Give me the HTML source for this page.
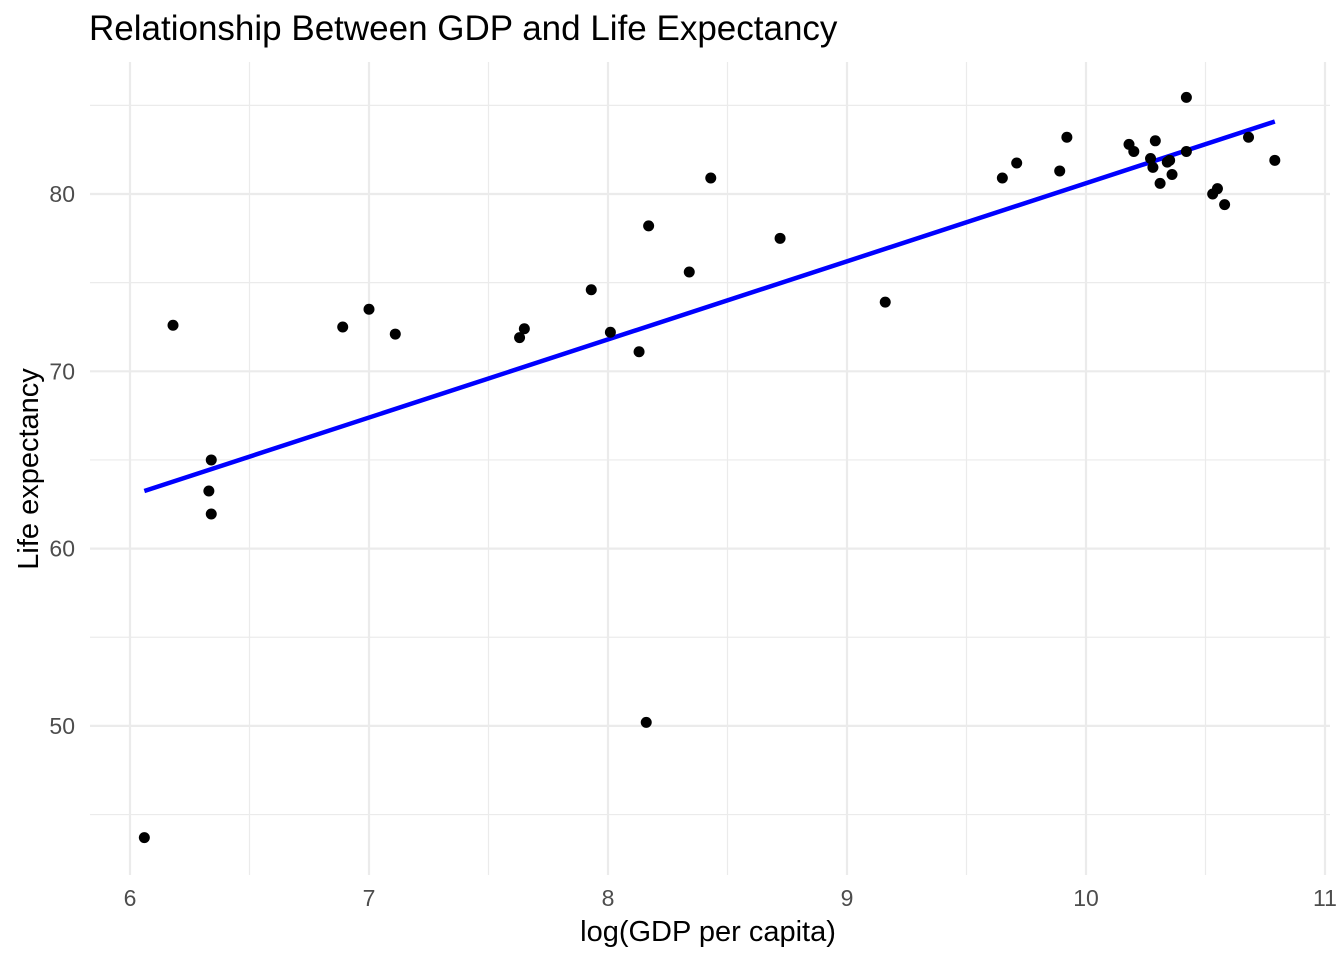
<!DOCTYPE html>
<html><head><meta charset="utf-8"><style>
body{margin:0;background:#fff}
svg text{font-family:"Liberation Sans",Arial,sans-serif}
</style></head><body>
<svg width="1344" height="960" xmlns="http://www.w3.org/2000/svg">
<rect width="1344" height="960" fill="#fff"/>
<text x="89" y="40" font-size="35" fill="#000">Relationship Between GDP and Life Expectancy</text>
<g id="grid"></g>
<g id="ticks"></g>
<path id="fit" fill="none" stroke="#0000ff" stroke-width="4.5"/>
<g id="pts"></g>
<text x="708" y="941" font-size="29" text-anchor="middle" fill="#000">log(GDP per capita)</text>
<text transform="translate(38,469) rotate(-90)" font-size="29" text-anchor="middle" fill="#000">Life expectancy</text>
</svg>
<script>
const xVals=[6.06,6.18,6.33,6.34,6.34,6.89,7.00,7.11,7.63,7.65,7.93,8.01,8.13,8.17,8.16,8.34,8.43,8.72,9.16,9.65,9.71,9.89,9.92,10.18,10.20,10.27,10.28,10.29,10.31,10.34,10.35,10.36,10.42,10.42,10.53,10.55,10.58,10.68,10.79];
const yVals=[43.7,72.6,63.25,65.0,61.95,72.5,73.5,72.1,71.9,72.4,74.6,72.2,71.1,78.2,50.2,75.6,80.9,77.5,73.9,80.9,81.75,81.3,83.2,82.8,82.4,82.0,81.5,83.0,80.6,81.8,81.9,81.1,85.45,82.4,80.0,80.3,79.4,83.2,81.9];
const xTicks=[6,7,8,9,10,11];
const yTicks=[50,60,70,80];
const xMinor=[6.5,7.5,8.5,9.5,10.5];
const yMinor=[45,55,65,75,85];
const NS="http://www.w3.org/2000/svg";
const L=90,R=1330,T=62,B=875;
const sx=v=>130+(v-6)*239;
const sy=v=>194-(v-80)*17.73;
const grid=document.getElementById('grid'),ticks=document.getElementById('ticks'),pts=document.getElementById('pts');
function line(x1,y1,x2,y2,w,name){const l=document.createElementNS(NS,'line');l.setAttribute('x1',x1);l.setAttribute('y1',y1);l.setAttribute('x2',x2);l.setAttribute('y2',y2);l.setAttribute('stroke','#ebebeb');l.setAttribute('stroke-width',w);


grid.appendChild(l);}
xMinor.forEach(v=>line(sx(v),T,sx(v),B,1.2,'x-minor-gridline'));
yMinor.forEach(v=>line(L,sy(v),R,sy(v),1.2,'y-minor-gridline'));
xTicks.forEach(v=>line(sx(v),T,sx(v),B,2.2,'x-major-gridline'));
yTicks.forEach(v=>line(L,sy(v),R,sy(v),2.2,'y-major-gridline'));
function txt(x,y,s,anchor,name){const t=document.createElementNS(NS,'text');t.setAttribute('x',x);t.setAttribute('y',y);t.setAttribute('font-size','23');t.setAttribute('fill','#4d4d4d');t.setAttribute('text-anchor',anchor);t.textContent=s;


ticks.appendChild(t);}
xTicks.forEach(v=>txt(sx(v),906,String(v),'middle','x-tick-label'));
yTicks.forEach(v=>txt(75,sy(v)+8,String(v),'end','y-tick-label'));
xVals.forEach((x,i)=>{const c=document.createElementNS(NS,'circle');c.setAttribute('cx',sx(x));c.setAttribute('cy',sy(yVals[i]));c.setAttribute('r',5.5);c.setAttribute('fill','#000');


pts.appendChild(c);});
const n=xVals.length,mx=xVals.reduce((a,b)=>a+b)/n,my=yVals.reduce((a,b)=>a+b)/n;
let sxy=0,sxx=0;xVals.forEach((x,i)=>{sxy+=(x-mx)*(yVals[i]-my);sxx+=(x-mx)*(x-mx);});
const b=sxy/sxx,a=my-b*mx;
const x0=Math.min(...xVals),x1=Math.max(...xVals);
document.getElementById('fit').setAttribute('d',`M${sx(x0)},${sy(a+b*x0)}L${sx(x1)},${sy(a+b*x1)}`);
</script>
</body></html>
